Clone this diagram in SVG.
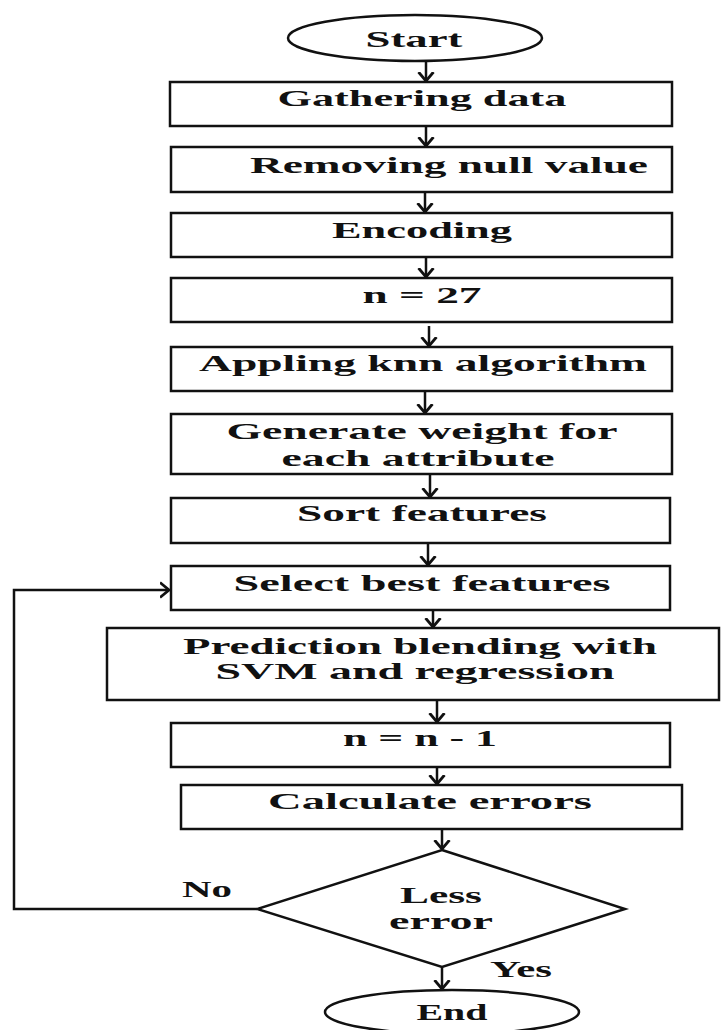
<svg xmlns="http://www.w3.org/2000/svg" width="721" height="1030" viewBox="0 0 721 1030">
<style>
.box{fill:#fff;stroke:#111;stroke-width:2.5}
.t{font-family:"Liberation Serif","Times New Roman",serif;font-weight:bold;font-size:23px;fill:#111;text-anchor:middle}
.c{fill:none;stroke:#111;stroke-width:2.5}
</style>
<defs>
<marker id="ah" viewBox="0 0 10 18" refX="9.5" refY="9" markerWidth="10" markerHeight="18" markerUnits="userSpaceOnUse" orient="auto">
<path d="M0.5,1.5 L9.5,9 L0.5,16.5" fill="none" stroke="#111" stroke-width="2.8"/>
</marker>
</defs>
<rect width="721" height="1030" fill="#fff"/>
<g id="connectors">
<line class="c" x1="426" y1="61" x2="426" y2="81" marker-end="url(#ah)"/>
<line class="c" x1="426" y1="126" x2="426" y2="146" marker-end="url(#ah)"/>
<line class="c" x1="425" y1="192" x2="425" y2="212" marker-end="url(#ah)"/>
<line class="c" x1="426" y1="257" x2="426" y2="277" marker-end="url(#ah)"/>
<line class="c" x1="429" y1="326" x2="429" y2="346" marker-end="url(#ah)"/>
<line class="c" x1="425" y1="391" x2="425" y2="413" marker-end="url(#ah)"/>
<line class="c" x1="430" y1="474" x2="430" y2="497" marker-end="url(#ah)"/>
<line class="c" x1="428" y1="543" x2="428" y2="565" marker-end="url(#ah)"/>
<line class="c" x1="433" y1="610" x2="433" y2="627" marker-end="url(#ah)"/>
<line class="c" x1="437" y1="700" x2="437" y2="722" marker-end="url(#ah)"/>
<line class="c" x1="437" y1="767" x2="437" y2="784" marker-end="url(#ah)"/>
<line class="c" x1="442" y1="829" x2="442" y2="849" marker-end="url(#ah)"/>
<line class="c" x1="442" y1="967" x2="442" y2="989" marker-end="url(#ah)"/>
<polyline class="c" points="257,909 14,909 14,590 169,590" marker-end="url(#ah)"/>
<text class="t" x="207" y="897" textLength="50" lengthAdjust="spacingAndGlyphs">No</text>
<text class="t" x="521" y="977" textLength="62" lengthAdjust="spacingAndGlyphs">Yes</text>
</g>
<g id="start">
<ellipse class="box" cx="415" cy="38" rx="127" ry="23"/>
<text class="t" x="414" y="47" textLength="97" lengthAdjust="spacingAndGlyphs">Start</text>
</g>
<g id="gathering">
<rect class="box" x="170" y="82" width="502" height="44"/>
<text class="t" x="422" y="106" textLength="289" lengthAdjust="spacingAndGlyphs">Gathering data</text>
</g>
<g id="removing">
<rect class="box" x="171" y="147" width="501" height="45"/>
<text class="t" x="449" y="173" textLength="398" lengthAdjust="spacingAndGlyphs">Removing null value</text>
</g>
<g id="encoding">
<rect class="box" x="171" y="213" width="501" height="44"/>
<text class="t" x="422" y="238" textLength="180" lengthAdjust="spacingAndGlyphs">Encoding</text>
</g>
<g id="n27">
<rect class="box" x="171" y="278" width="501" height="44"/>
<text class="t" x="422" y="303" textLength="119" lengthAdjust="spacingAndGlyphs">n = 27</text>
</g>
<g id="knn">
<rect class="box" x="171" y="347" width="501" height="44"/>
<text class="t" x="423" y="371" textLength="448" lengthAdjust="spacingAndGlyphs">Appling knn algorithm</text>
</g>
<g id="weight">
<rect class="box" x="171" y="414" width="501" height="60"/>
<text class="t" x="422" y="439" textLength="391" lengthAdjust="spacingAndGlyphs">Generate weight for</text>
<text class="t" x="418" y="466" textLength="273" lengthAdjust="spacingAndGlyphs">each attribute</text>
</g>
<g id="sort">
<rect class="box" x="171" y="498" width="499" height="45"/>
<text class="t" x="422" y="521" textLength="250" lengthAdjust="spacingAndGlyphs">Sort features</text>
</g>
<g id="select">
<rect class="box" x="171" y="566" width="499" height="44"/>
<text class="t" x="422" y="591" textLength="377" lengthAdjust="spacingAndGlyphs">Select best features</text>
</g>
<g id="prediction">
<rect class="box" x="107" y="628" width="612" height="72"/>
<text class="t" x="420" y="654" textLength="474" lengthAdjust="spacingAndGlyphs">Prediction blending with</text>
<text class="t" x="415" y="679" textLength="399" lengthAdjust="spacingAndGlyphs">SVM and regression</text>
</g>
<g id="decrement">
<rect class="box" x="171" y="723" width="499" height="44"/>
<text class="t" x="420" y="746" textLength="154" lengthAdjust="spacingAndGlyphs">n = n - 1</text>
</g>
<g id="calculate">
<rect class="box" x="181" y="785" width="501" height="44"/>
<text class="t" x="430" y="809" textLength="324" lengthAdjust="spacingAndGlyphs">Calculate errors</text>
</g>
<g id="decision">
<polygon class="box" points="442,850 625,909 442,967 257,909"/>
<text class="t" x="441" y="903" textLength="82" lengthAdjust="spacingAndGlyphs">Less</text>
<text class="t" x="441" y="929" textLength="104" lengthAdjust="spacingAndGlyphs">error</text>
</g>
<g id="end">
<ellipse class="box" cx="452" cy="1012" rx="127" ry="22"/>
<text class="t" x="452" y="1020" textLength="71" lengthAdjust="spacingAndGlyphs">End</text>
</g>
</svg>
